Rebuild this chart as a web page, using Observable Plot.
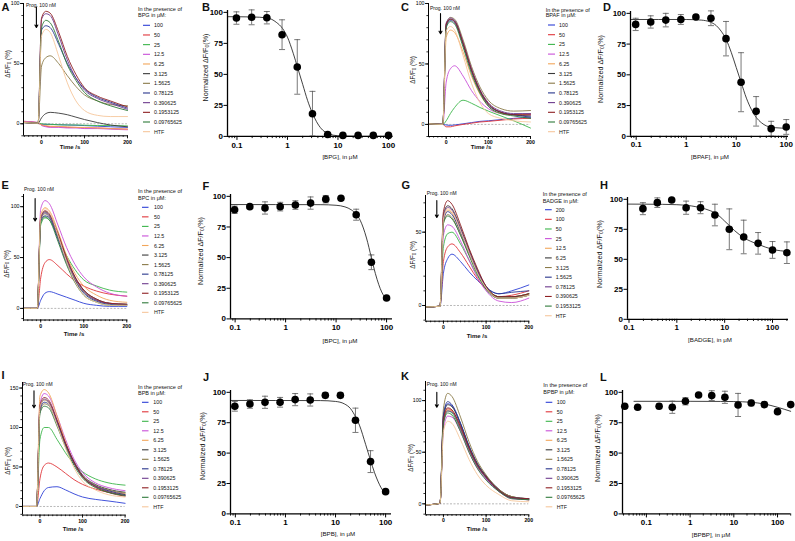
<!DOCTYPE html>
<html><head><meta charset="utf-8">
<script src="https://cdn.jsdelivr.net/npm/d3@7"></script>
<script src="https://cdn.jsdelivr.net/npm/@observablehq/plot@0.6"></script>
<style>
body{margin:0;background:#fff;font-family:"Liberation Sans",Arial,sans-serif}
#root{position:relative;width:795px;height:541px;overflow:hidden;background:#fff}
</style>
</head><body><div id="root"></div>
<script>
const FONT = '"Liberation Sans", Arial, sans-serif';
// ---- shared data ----
const timeS = [-40,-8,0,10,20,40,60,80,100,130,160,200];
const doseLegend = ["100","50","25","12.5","6.25","3.125","1.5625","0.78125","0.390625","0.1953125","0.09765625","HTF"];
const badgeLegend = ["200","100","50","25","12.5","6.25","3.125","1.5625","0.78125","0.390625","0.1953125","HTF"];
const traceColors = ["#2c3fd6","#e0353a","#3bb54a","#c94fd8","#f2a65a","#3a3a3a","#8a7a48","#28358c","#6e3b8e","#8e1f22","#2f7a3a","#f6c79c"];

// ---- time courses (ΔF/F0 %) ----
const bpgTraces = [
 [1.5,0.5,-0.5,-0.5,-0.5,-0.8,-1,-1.2,-1.5,-2,-2.5,-3],
 [2,1,-1,-2,-2.5,-2.5,-3,-3,-3.5,-3.5,-4,-4.5],
 [1.5,0.5,0,-0.3,-0.5,-0.8,-1,-1,-1.2,-1.5,-1.5,-1.8],
 [2,1,-1.5,-2.5,-3,-3,-3.5,-3.5,-4,-4,-4.5,-5],
 [1.5,0.5,-1,-1.5,-2,-2.2,-2.5,-3,-3,-3.5,-4,-4.5],
 [1,0.5,5,8.5,9.5,8.8,7.5,5.5,3.5,1,-1,-2.5],
 [1,0.5,48,55,56.5,50,40,31,24,19,16,15],
 [1,0.5,78,81.5,80,66,50,38,29,22,18,13],
 [1,0.5,87,91.5,90,73,53,38,28,21,17,12],
 [1,0.5,88,93.5,92,76,56,41,30,23,19,14],
 [1,0.5,80,86,84,68,49,36,26,19,15,11],
 [1,0.5,73,78.5,76,56,34,19,11,7,6,6]];
const bpafTraces = [
 [0.5,0,-0.5,-0.8,-0.5,0.5,1.5,2.5,3,4,5,6],
 [0.5,0,-2,-2,-1.2,0,1,2,2.5,3.5,4.5,5],
 [0.5,0,3,9,14,20,17.5,14,11,7,3,-3],
 [0.5,0,35,46,48.5,40,28,19,13,9,8,8],
 [0.5,0,72,78,76,60,40,25,15,9,8,9],
 [0.5,0,82,87,85.5,67,45,28,17,10,8,7],
 [0.5,0,83,88.5,87,70,48,31,20,13,11,11.5],
 [0.5,0,81,86,84,66,44,27,16,10,8,6],
 [0.5,0,84,88,86,68,46,29,18,11,9,9],
 [0.5,0,83,87,85,67,45,28,17,10,8,8],
 [0.5,0,80,85,83,64,42,26,15,9,7,5],
 [0.5,0,77,81,78,57,34,18,9,5,3,2]];
const bpcTraces = [
 [0,0,8,15,16.5,14,11,8,5,3,2,2],
 [0,0,30,45,48,42,34,27,22,17,14,12],
 [0,0,82,89,87,70,52,38,28,22,18,16],
 [0,0,98,106,103,82,60,43,31,21,15,12],
 [0,0,92,99,96,76,52,34,22,13,8,6],
 [0,0,89,95,92,72,48,30,18,9,5,4],
 [0,0,87,93,90,70,46,28,16,8,5,4],
 [0,0,86,91,89,68,45,27,15,7,4,3],
 [0,0,88,94,91,72,48,30,17,8,5,4],
 [0,0,90,96,93,74,50,31,18,9,5,4],
 [0,0,84,90,87,66,43,25,13,6,3,3],
 [0,0,91,98,95,72,46,26,13,6,3,3]];
const badgeTraces = [
 [-1,-0.5,22,32,35,30,23,17,12,8,10,14],
 [-1,-0.5,30,40,42,36,27,18,11,6,7,10],
 [-1,-0.5,40,49,50,42,31,20,12,6,6,8],
 [-1,-0.5,48,55,54,44,31,19,10,3,2,5],
 [-1,-0.5,58,65,63,50,36,22,12,5,5,7],
 [-1,-0.5,62,68,66,53,38,24,13,6,6,8],
 [-1,-0.5,56,62,60,48,35,22,12,5,5,8],
 [-1,-0.5,58,64,62,50,36,23,13,8,9,10],
 [-1,-0.5,60,67,65,52,37,23,12,5,5,7],
 [-1,-0.5,64,71.5,69,55,39,25,13,6,6,8],
 [-1,-0.5,56,61,59,48,34,21,11,5,5,7],
 [-1,-0.5,59,66,64,51,36,22,12,5,5,7]];
const bpbTraces = [
 [0,0,10,20,24,25,21,16,12,9,7,4],
 [0,0,35,52,55,50,42,34,28,22,18,15],
 [0,0,85,100,100,85,68,54,44,35,30,27],
 [0,0,130,143,140,115,85,60,43,30,24,20],
 [0,0,140,148,144,115,82,56,38,26,20,16],
 [0,0,125,135,132,108,80,57,40,28,22,18],
 [0,0,120,130,128,105,78,55,39,27,21,17],
 [0,0,122,132,130,106,78,55,38,26,20,15],
 [0,0,125,136,133,108,79,55,38,26,19,14],
 [0,0,128,138,135,110,80,56,38,25,18,13],
 [0,0,118,127,125,102,75,52,36,24,18,14],
 [0,0,126,135,131,104,74,49,32,21,15,12]];
const bpbpTraces = [
 [-1,0.5,85,97,95,78,55,38,27,14,6,5],
 [-1,0.5,80,92,90,74,54,37,26,13,6,4],
 [-1,0.5,78,90,88,72,52,36,25,13,6,4],
 [-1,0.5,72,85,84,70,50,34,24,12,5,4],
 [-1,0.5,80,91,90,74,54,37,26,13,7,4],
 [-1,0.5,84,96,94,77,56,39,27,14,7,5],
 [-1,0.5,92,107,104,84,60,41,28,14,7,5],
 [-1,0.5,86,99,96,78,56,38,26,13,6,5],
 [-1,0.5,80,90,89,73,53,36,25,12,6,4],
 [-1,0.5,82,93,91,75,54,37,26,13,6,5],
 [-1,0.5,78,88,86,70,50,34,23,12,5,4],
 [-1,0.5,70,80,78,62,43,28,18,9,3,2]];

// ---- dose responses (normalized ΔF/F0 %) ----
const conc11 = [0.09765625,0.1953125,0.390625,0.78125,1.5625,3.125,6.25,12.5,25,50,100];
const badgeConc = [0.1953125,0.390625,0.78125,1.5625,3.125,6.25,12.5,25,50,100,200];
const bpbpConc = [0.032,0.063,0.1953125,0.390625,0.78125,1.5625,3.125,6.25,12.5,25,50,100,200];

const bpgMean = [95.4,96,95.7,82,56,18.3,1.5,0.8,0.8,0.8,0.8];
const bpgSem  = [5,6,5,12,22,18,0,0,0,0,0];
const bpgFitX = [0.065,0.2,0.4,0.6,0.8,1,1.3,1.6,2,2.5,3.1,4,5,6.3,8,12,30,120];
const bpgFitY = [96.5,96.3,95.5,92,87,80,67,55,42,29,19,10,5,2.5,1,0.3,0,0];

const bpafMean = [91,93,94.5,95,97,96,79.4,44,20.3,6.2,7.6];
const bpafSem  = [5,5,5.5,4,1.5,6,14,24,12,6,6];
const bpafFitX = [0.077,1,2,3,4,5,6.25,8,10,12.5,16,20,25,32,40,60,111];
const bpafFitY = [95,95,94.5,93,90,85.5,79,68,56,44,31,22,15.5,11,8.5,7,6.5];

const bpcMean = [89,91.6,90.5,91.6,92.9,94.5,97.7,98.5,85,46.2,17.1];
const bpcSem  = [3,1,5,3.5,3.5,5,3,0.5,4.5,6,0];
const bpcFitX = [0.081,5,10,15,20,25,30,40,50,60,70,80,100];
const bpcFitY = [93.3,93.2,92.7,91.4,89,85.5,80.5,66,50,37,28,22,16];

const badgeMean = [92.2,97.2,99.4,93,93,86.9,75,68.6,63.3,57.8,55.5];
const badgeSem  = [5,4,0,5.5,5,9,17,14,9,7,9];
const badgeFitX = [0.093,0.5,1,2,3.125,5,6.25,8,10,12.5,16,20,25,35,50,100,216];
const badgeFitY = [96,95.8,95.5,94.5,93,90.5,88.7,85.5,81.8,78.2,74,70.8,68,65,62.5,58.3,56.5];

const bpbMean = [88.5,90.4,91.8,91.8,94,93.7,97.5,97.5,77,43,18.3];
const bpbSem  = [4,3.5,5,4,5,5,2,2,10,9,0];
const bpbFitX = [0.08,5,10,15,20,25,30,40,50,60,70,80,100];
const bpbFitY = [93.3,93.2,92.5,90.5,86.5,80,73,57,44,34,27,22,16];

const bpbpMean = [88.5,87.7,88.5,87.7,92.6,97.8,97.3,95.9,89.6,91.2,89.9,84.1,89.9];
const bpbpSem  = [0,0,2,5,3,0,4,5,9.5,2.3,2,0,0];
const bpbpFitX = [0.052,1,5,10,25,50,100,200];
const bpbpFitY = [92.6,92.6,92.5,92.4,91.8,90.4,87.7,84.4];

// ---- helpers ----
const root = document.getElementById("root");
function place(el, x, y){ el.style.position="absolute"; el.style.left=x+"px"; el.style.top=y+"px"; root.appendChild(el); }

function timePanel(c){
  const mL=24,mR=6,mT=12,mB=16;
  const rows=[];
  c.traces.forEach((arr,i)=>arr.forEach((v,j)=>rows.push({t:timeS[j],v,s:c.labels[i]})));
  const [ymin,ymax]=c.yDomain;
  const minorY=d3.range(Math.ceil(ymin/10)*10,ymax+0.01,10);
  const minorX=d3.range(-40,201,10);
  const svg=Plot.plot({
    width:c.frame[1]-c.frame[0]+mL+mR, height:c.frame[3]-c.frame[2]+mT+mB,
    marginLeft:mL,marginRight:mR,marginTop:mT,marginBottom:mB,
    style:{background:"none",overflow:"visible",fontFamily:FONT},
    x:{domain:c.xDomain,label:null}, y:{domain:c.yDomain,label:null},
    color:{domain:c.labels,range:traceColors},
    marks:[
      Plot.ruleY([0],{x1:-8,x2:200,stroke:"#9a9a9a",strokeDasharray:"2,1.5",strokeWidth:0.7}),
      Plot.line(rows,{x:"t",y:"v",z:"s",stroke:"s",curve:"monotone-x",strokeWidth:0.9}),
      Plot.axisX({ticks:minorX,tickSize:1.6,tickFormat:()=>"",strokeWidth:0.8}),
      Plot.axisX({ticks:[0,100,200],tickSize:3,tickPadding:1,fontSize:5.2,fontWeight:"bold",strokeWidth:0.9}),
      Plot.axisY({ticks:minorY,tickSize:1.6,tickFormat:()=>"",strokeWidth:0.8}),
      Plot.axisY({ticks:c.yTicks,tickSize:3,tickPadding:1,fontSize:5.2,strokeWidth:0.9}),
      Plot.ruleX([c.xDomain[0]],{strokeWidth:1}),
      Plot.ruleY([c.yDomain[0]],{strokeWidth:1}),
      Plot.arrow([c.arrow],{x1:"t",x2:"t",y1:"y1",y2:"y2",headLength:4,strokeWidth:1.1,stroke:"#000"})
    ]
  });
  place(svg,c.frame[0]-mL,c.frame[2]-mT);
}

const capSymbol={draw(ctx){ctx.moveTo(-3,0);ctx.lineTo(3,0);}};
function dosePanel(c){
  const mL=20,mR=6,mT=6,mB=16;
  const pts=c.conc.map((x,i)=>({x,y:c.mean[i],e:c.sem[i]}));
  const bars=pts.filter(d=>d.e>0);
  const caps=bars.flatMap(d=>[{x:d.x,y:d.y+d.e},{x:d.x,y:Math.max(0,d.y-d.e)}]);
  const fit=c.fitX.map((x,i)=>({x,y:c.fitY[i]}));
  const [x0,x1]=c.xDomain;
  const minor=[];
  for(const d of [0.01,0.1,1,10,100]) for(let k=2;k<=9;k++){const v=d*k; if(v>=x0&&v<=x1) minor.push(v);}
  const major=[0.1,1,10,100].filter(v=>v>=x0*0.999&&v<=x1);
  const svg=Plot.plot({
    width:c.frame[1]-c.frame[0]+mL+mR, height:c.frame[3]-c.frame[2]+mT+mB,
    marginLeft:mL,marginRight:mR,marginTop:mT,marginBottom:mB,
    style:{background:"none",overflow:"visible",fontFamily:FONT},
    x:{type:"log",domain:c.xDomain,label:null}, y:{domain:[0,101.5],label:null},
    marks:[
      Plot.line(fit,{x:"x",y:"y",stroke:"#111",strokeWidth:0.8,curve:"monotone-x"}),
      Plot.ruleX(bars,{x:"x",y1:d=>Math.max(0,d.y-d.e),y2:d=>d.y+d.e,stroke:"#555",strokeWidth:0.8}),
      Plot.dot(caps,{x:"x",y:"y",symbol:capSymbol,fill:"none",stroke:"#555",strokeWidth:0.8}),
      Plot.dot(pts,{x:"x",y:"y",r:3.8,fill:"#000"}),
      Plot.axisX({ticks:minor,tickSize:2.2,tickFormat:()=>"",strokeWidth:0.9}),
      Plot.axisX({ticks:major,tickSize:4,tickPadding:1.5,fontSize:8,fontWeight:"bold",tickFormat:d=>String(d),strokeWidth:1}),
      Plot.axisY({ticks:[0,25,50,75,100],tickSize:3.5,tickPadding:1,fontSize:8,fontWeight:"bold",strokeWidth:1}),
      Plot.ruleX([x0],{strokeWidth:1.3}),
      Plot.ruleY([0],{strokeWidth:1.3})
    ]
  });
  place(svg,c.frame[0]-mL,c.frame[2]-mT);
}

// ---- panels ----
timePanel({frame:[23,127,3,135.3],xDomain:[-42,200],yDomain:[-10,100],yTicks:[0,50,100],traces:bpgTraces,labels:doseLegend,arrow:{t:-12,y1:97,y2:80}});
timePanel({frame:[428,530,3,136],xDomain:[-42,200],yDomain:[-10,100],yTicks:[0,50,100],traces:bpafTraces,labels:doseLegend,arrow:{t:-13.5,y1:91.6,y2:75}});
timePanel({frame:[22.7,126,193.8,319.3],xDomain:[-40,200],yDomain:[-11.4,112],yTicks:[0,50,100],traces:bpcTraces,labels:doseLegend,arrow:{t:-13,y1:108,y2:86}});
timePanel({frame:[425,528.3,195,320.7],xDomain:[-42,200],yDomain:[-10.7,75],yTicks:[0,50],traces:badgeTraces,labels:badgeLegend,arrow:{t:-15.5,y1:71.6,y2:60}});
timePanel({frame:[21.7,124.3,381.7,514.3],xDomain:[-41,200],yDomain:[-10.9,157],yTicks:[0,50,100,150],traces:bpbTraces,labels:doseLegend,arrow:{t:-14,y1:146.5,y2:125}});
timePanel({frame:[425,528.3,381,514.3],xDomain:[-42,200],yDomain:[-10.6,118.5],yTicks:[0,50,100],traces:bpbpTraces,labels:doseLegend,arrow:{t:-15.5,y1:108,y2:93.5}});

dosePanel({frame:[227,392,10.1,136],xDomain:[0.065,120],conc:conc11,mean:bpgMean,sem:bpgSem,fitX:bpgFitX,fitY:bpgFitY});
dosePanel({frame:[630,788,11.2,136],xDomain:[0.077,111],conc:conc11,mean:bpafMean,sem:bpafSem,fitX:bpafFitX,fitY:bpafFitY});
dosePanel({frame:[230,392,193.9,318.3],xDomain:[0.081,131],conc:conc11,mean:bpcMean,sem:bpcSem,fitX:bpcFitX,fitY:bpcFitY});
dosePanel({frame:[627.3,788.3,196.5,318.3],xDomain:[0.093,216],conc:badgeConc,mean:badgeMean,sem:badgeSem,fitX:badgeFitX,fitY:badgeFitY});
dosePanel({frame:[230,391,389.9,513.3],xDomain:[0.08,131],conc:conc11,mean:bpbMean,sem:bpbSem,fitX:bpbFitX,fitY:bpbFitY});
dosePanel({frame:[621.7,790,389.9,513.3],xDomain:[0.0284,201],conc:bpbpConc,mean:bpbpMean,sem:bpbpSem,fitX:bpbpFitX,fitY:bpbpFitY});

// ---- text overlay ----
const ov=d3.create("svg").attr("width",795).attr("height",541)
  .style("position","absolute").style("left","0px").style("top","0px").style("pointer-events","none")
  .style("font-family",FONT);
function txt(x,y,s,size,opts={}){
  return ov.append("text").attr("x",x).attr("y",y).attr("font-size",size)
    .attr("dominant-baseline","central").attr("text-anchor",opts.anchor||"start")
    .attr("font-weight",opts.bold?"bold":"normal").attr("fill","#111").text(s);
}
function subLabel(x,y,pre,post,size){
  const t=ov.append("text").attr("transform",`translate(${x},${y}) rotate(-90)`).attr("font-size",size)
    .attr("text-anchor","middle").attr("dominant-baseline","central").attr("fill","#111");
  t.append("tspan").text(pre);
  t.append("tspan").attr("dy",size*0.3).attr("font-size",size*0.7).text("0");
  t.append("tspan").attr("dy",-size*0.3).text(post);
}
// panel letters
[["A",1.5,7],["B",202,6.5],["C",401,7],["D",603,7],["E",1.5,185],["F",202.5,186],["G",401.5,185],["H",600,185],["I",1.5,375],["J",203,376.5],["K",401,375.5],["L",600,376.5]]
 .forEach(([s,x,y])=>txt(x,y,s,11,{bold:true}));
// Prog labels
[[26,4.8],[430,8.3],[24,189],[426.7,193],[22.7,384],[426.7,384]].forEach(([x,y])=>txt(x,y,"Prog. 100 nM",5));
// time axis titles
[[70,147],[481,147],[74,334.3],[477,335.7],[73,529.3],[477,529.3]].forEach(([x,y])=>txt(x,y,"Time /s",6,{anchor:"middle",bold:true}));
// time y labels
[[7,64],[411.7,70],[5.5,264],[411.7,255],[7.3,461],[410,458]].forEach(([x,y])=>subLabel(x,y,"ΔF/F"," (%)",6.3));
// dose y labels
[[205,67.5],[600,69],[200,251],[599,254],[201.7,446],[596.7,448]].forEach(([x,y])=>subLabel(x,y,"Normalized ΔF/F","(%)",7.2));
// dose x labels
[["[BPG], in μM",340,156.7],["[BPAF], in μM",710,156],["[BPC], in μM",340,340],["[BADGE], in μM",710,339],["[BPB], in μM",338,533.3],["[BPBP], in μM",711,534]]
 .forEach(([s,x,y])=>txt(x,y,s,6.2,{anchor:"middle"}));
// legends
function legend(titleX,t1,t2,compound,labels,sx0,sx1,tx,y0,step){
  txt(titleX,t1,"In the presence of",5.5);
  txt(titleX,t2,compound+" in μM:",5.5);
  labels.forEach((l,i)=>{
    const y=y0+i*step;
    ov.append("line").attr("x1",sx0).attr("x2",sx1).attr("y1",y).attr("y2",y).attr("stroke",traceColors[i]).attr("stroke-width",1.1);
    txt(tx,y,l,5.3);
  });
}
legend(138,9.3,14.8,"BPG",doseLegend,143,150,154,25.3,9.67);
legend(545.7,10,15.3,"BPAF",doseLegend,548,555,559,25,9.7);
legend(138,191,198,"BPC",doseLegend,142,148.5,154,207.3,9.55);
legend(542.7,194.3,200.7,"BADGE",badgeLegend,545,551.7,555.7,209.7,9.64);
legend(138,386.7,393.3,"BPB",doseLegend,142,148.5,153.3,402.3,9.5);
legend(543.3,385,391.7,"BPBP",doseLegend,545.7,552.3,556.7,402.3,9.5);
root.appendChild(ov.node());
</script>
</body></html>
